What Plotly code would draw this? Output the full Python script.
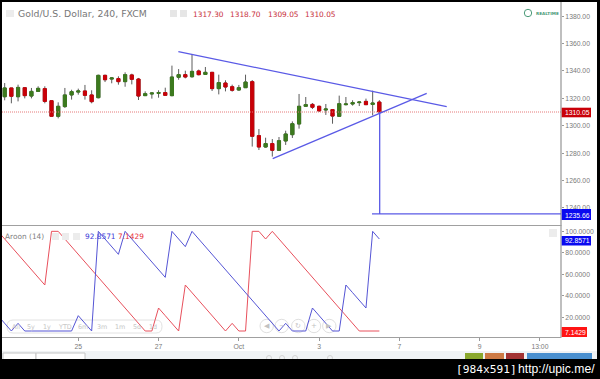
import plotly.graph_objects as go
from plotly.subplots import make_subplots

W, H = 600, 379
L, R, T, B = 2, 561, 2, 337

bar_index = list(range(57))
opens = [1321.2,1327.6,1321.2,1327.8,1321.7,1325.1,1327.1,1318.3,1306.9,1314.0,1322.5,1324.6,1325.4,1322.5,1320.5,1336.8,1334.1,1334.4,1332.2,1337.1,1334.1,1322.0,1323.2,1323.7,1324.2,1322.0,1335.4,1337.3,1335.8,1340.0,1337.5,1339.0,1327.1,1331.2,1328.5,1326.1,1327.8,1332.2,1292.8,1284.5,1287.0,1282.1,1288.9,1293.5,1301.3,1314.2,1315.6,1314.2,1311.5,1311.8,1306.9,1315.4,1315.9,1316.9,1317.8,1315.6,1317.3]
closes = [1327.6,1321.5,1328.0,1322.0,1325.1,1327.3,1317.8,1306.9,1314.2,1322.5,1324.9,1325.4,1322.2,1317.6,1336.8,1333.6,1334.9,1332.2,1337.3,1333.9,1321.7,1323.4,1323.9,1324.2,1322.2,1335.6,1337.3,1335.6,1339.7,1337.3,1339.0,1327.1,1331.5,1328.3,1325.9,1327.8,1331.9,1292.3,1284.5,1287.0,1282.1,1289.1,1294.0,1301.5,1314.2,1315.4,1313.5,1310.8,1312.2,1307.1,1316.1,1315.9,1316.9,1317.3,1315.4,1316.6,1310.05]
highs = [1331.2,1327.6,1330.0,1327.8,1327.6,1328.8,1328.8,1318.3,1317.1,1327.6,1326.3,1327.1,1329.8,1325.9,1337.3,1337.3,1335.6,1336.1,1339.0,1338.0,1334.9,1325.1,1324.2,1325.9,1327.8,1343.9,1341.4,1340.2,1352.4,1341.0,1342.9,1339.0,1337.3,1333.2,1330.0,1329.8,1337.3,1333.4,1297.6,1291.3,1290.3,1291.8,1296.4,1303.2,1323.2,1321.0,1316.6,1314.7,1315.9,1312.2,1322.0,1321.0,1318.6,1317.8,1319.8,1325.6,1318.7]
lows = [1318.6,1316.4,1317.8,1320.0,1320.0,1325.1,1316.4,1306.6,1305.4,1313.0,1319.1,1322.7,1319.1,1316.4,1320.0,1331.9,1331.0,1330.0,1328.5,1330.2,1318.8,1321.7,1319.8,1320.5,1322.0,1321.5,1333.6,1334.6,1335.1,1336.8,1337.3,1325.4,1322.9,1325.1,1324.9,1325.6,1327.6,1284.8,1282.3,1284.0,1277.5,1281.8,1286.0,1291.1,1297.9,1313.7,1312.2,1310.5,1307.9,1301.5,1306.4,1314.9,1314.7,1314.4,1315.2,1307.6,1309.05]

aroon_index = list(range(-1, 57))
aroon_up = [21.43,14.29,7.14,14.29,7.14,7.14,7.14,7.14,7.14,7.14,7.14,7.14,21.43,14.29,7.14,100,92.86,85.71,78.57,100,92.86,85.71,78.57,71.43,64.29,57.14,100,92.86,85.71,100,92.86,85.71,78.57,71.43,64.29,57.14,50,42.86,35.71,28.57,21.43,14.29,7.14,14.29,7.14,7.14,7.14,28.57,21.43,14.29,7.14,7.14,50,42.86,35.71,28.57,100,92.86]
aroon_down = [100,92.86,85.71,78.57,71.43,64.29,57.14,50,100,100,92.86,85.71,78.57,71.43,64.29,57.14,50,42.86,35.71,28.57,21.43,14.29,7.14,7.14,28.57,21.43,14.29,7.14,50,42.86,35.71,28.57,21.43,14.29,7.14,14.29,7.14,7.14,100,100,92.86,100,92.86,85.71,78.57,71.43,64.29,57.14,50,42.86,35.71,28.57,21.43,14.29,7.14,7.14,7.14,7.14]

resistance_x = [25.96, 66.07]
resistance_y = [1354.07, 1313.9]
support_x = [40.06, 63.08]
support_y = [1276.0, 1323.7]
drop_x = [56.05, 56.05]
drop_y = [1310.05, 1235.66]
target_x = [54.9, 83.15]
target_y = [1235.66, 1235.66]

x_tick_vals = [11, 23, 35, 47, 59, 71, 80]
x_tick_text = ["25", "27", "Oct", "3", "7", "9", "13:00"]
price_ticks = [1240, 1260, 1280, 1300, 1320, 1340, 1360, 1380]
aroon_ticks = [20, 40, 60, 80, 100]
last_price = 1310.05
range_buttons = ["All", "5y", "1y", "YTD", "6m", "3m", "1m", "5d", "1d"]
nav_buttons = ["◀", "−", "↻", "+", "▶"]

UP, DOWN, WICK = "#3c7a1e", "#c90008", "#5c5c5c"
BLUE_LINE, RED_LINE, DRAW = "#5555d5", "#e8505c", "#5a5ae6"
GRAY = "#808080"


def px(x):
    return (x - L) / (R - L)


def py(y):
    return (B - y) / (B - T)


fig = make_subplots(rows=2, cols=1, shared_xaxes=True, vertical_spacing=0,
                    row_heights=[0.667, 0.333])

fig.add_trace(go.Scatter(x=[-1, 84], y=[last_price, last_price], mode="lines",
                         line=dict(color="#e57878", width=1, dash="1px,1px")), row=1, col=1)
fig.add_trace(go.Candlestick(x=bar_index, open=opens, close=closes, high=highs, low=lows,
                             increasing=dict(line=dict(color=WICK, width=1), fillcolor=WICK),
                             decreasing=dict(line=dict(color=WICK, width=1), fillcolor=WICK),
                             whiskerwidth=0), row=1, col=1)
body_hi = [max(o, c) for o, c in zip(opens, closes)]
body_lo = [min(o, c) for o, c in zip(opens, closes)]
fig.add_trace(go.Candlestick(x=bar_index, open=opens, close=closes, high=body_hi, low=body_lo,
                             increasing=dict(line=dict(color=UP, width=1), fillcolor=UP),
                             decreasing=dict(line=dict(color=DOWN, width=1), fillcolor=DOWN),
                             whiskerwidth=0), row=1, col=1)
for xs, ys in [(resistance_x, resistance_y), (support_x, support_y), (drop_x, drop_y), (target_x, target_y)]:
    fig.add_trace(go.Scatter(x=xs, y=ys, mode="lines", line=dict(color=DRAW, width=1.3)), row=1, col=1)

fig.add_trace(go.Scatter(x=aroon_index, y=aroon_down, mode="lines",
                         line=dict(color=RED_LINE, width=1)), row=2, col=1)
fig.add_trace(go.Scatter(x=aroon_index, y=aroon_up, mode="lines",
                         line=dict(color=BLUE_LINE, width=1)), row=2, col=1)

shapes = []


def rect(x0, y0, x1, y1, fill, line=None, layer="above"):
    shapes.append(dict(type="rect", xref="paper", yref="paper", x0=px(x0), x1=px(x1), y0=py(y1), y1=py(y0),
                       fillcolor=fill, line=dict(color=line or fill, width=1 if line else 0), layer=layer))


def circle(cx, cy, r, line, layer="below", width=1):
    shapes.append(dict(type="circle", xref="paper", yref="paper", x0=px(cx - r), x1=px(cx + r),
                       y0=py(cy + r), y1=py(cy - r), line=dict(color=line, width=width), layer=layer))


shapes.append(dict(type="path", xref="paper", yref="paper", layer="below",
                   path=f"M {px(13)} {py(320)} L {px(156)} {py(320)} Q {px(162)} {py(320)} {px(162)} {py(326.5)} "
                        f"Q {px(162)} {py(333)} {px(156)} {py(333)} L {px(13)} {py(333)} "
                        f"Q {px(7)} {py(333)} {px(7)} {py(326.5)} Q {px(7)} {py(320)} {px(13)} {py(320)} Z",
                   line=dict(color="#e2e2e2", width=1)))
for cx in [266.7, 281.7, 298.3, 314, 329.3]:
    circle(cx, 326, 6.7, "#dfdfdf")
rect(R - 0.5, 2, R + 0.5, 337, GRAY)
rect(2, 225, R + 0.5, 226, "#a0a0a0")
rect(2, 337, R + 0.5, 338, "#a0a0a0")
rect(2, 351, 597, 359, "#f0f3f5")
rect(3, 353, 36, 360, "#ffffff", "#c4c4c4")
rect(36, 353, 85, 360, "#ffffff", "#c4c4c4")
for cx in [269, 282, 295, 330]:
    circle(cx, 358, 2.5, "#d4d4d4", layer="above")
rect(465, 353, 483, 360, "#8aa82e")
rect(485, 353, 504, 360, "#cd7a45")
rect(506, 353, 524, 360, "#a33434")
rect(527, 353, 592, 360, "#4a90d0")
rect(6, 10, 14, 17, "#ececec")
rect(170, 10, 177, 17, "#e6e6e6")
rect(180, 10, 187, 17, "#e6e6e6")
rect(52, 233, 59, 240, "#ececec")
rect(62, 233, 69, 240, "#ececec")
rect(73, 233, 80, 240, "#ececec")
rect(549, 229, 557, 237, "#ececec")
circle(528, 13, 3.7, "#4a9a78", layer="above", width=1)
rect(561.7, 107.7, 591, 117.3, "#c90008")
rect(561.7, 209, 591, 220, "#0a0af0")
rect(561.7, 236, 591, 245.5, "#0a0af0")
rect(561.7, 327, 587, 337, "#ff1414")
rect(0, 0, 600, 2, "#000000")
rect(0, 0, 2, 379, "#000000")
rect(597, 0, 600, 379, "#000000")
rect(0, 359, 600, 379, "#000000")

annotations = []


def label(x, y, text, size, color, family="DejaVu Sans", anchor="left"):
    annotations.append(dict(xref="paper", yref="paper", x=px(x), y=py(y), text=text, showarrow=False,
                            xanchor=anchor, yanchor="middle", borderpad=0,
                            font=dict(size=size, color=color, family=family)))


label(17, 13.5, "Gold/U.S. Dollar, 240, FXCM", 9.3, "#777777")
label(192, 14, "1317.30", 7.4, "#c8303c")
label(229, 14, "1318.70", 7.4, "#c8303c")
label(267, 14, "1309.05", 7.4, "#c8303c")
label(304, 14, "1310.05", 7.4, "#c8303c")
label(535, 13.5, "<b>REALTIME</b>", 4.2, "#4a9a78")
label(4, 236, "Aroon (14)", 7.4, "#808080")
label(84, 236, "92.8571", 7.4, "#3c3cd8")
label(117, 236, "7.1429", 7.4, "#e8303c")
label(564, 112.5, "1310.05", 6.8, "#ffffff", "Liberation Sans")
label(564, 215, "1235.66", 6.8, "#ffffff", "Liberation Sans")
label(564, 241, "92.8571", 6.8, "#ffffff", "Liberation Sans")
label(564, 332.5, "7.1429", 6.8, "#ffffff", "Liberation Sans")
for cx, t in zip([16, 31, 47, 65, 83, 102, 120, 137, 153], range_buttons):
    label(cx, 326.5, t, 6.4, "#c6c6c6", anchor="center")
for cx, t in zip([266.7, 281.7, 298.3, 314, 329.3], nav_buttons):
    label(cx, 326, t, 7, "#c2c2c2", anchor="center")
label(455, 369, "[984x591]", 11.2, "#ffffff", "DejaVu Sans Mono")
label(517, 369, "http://upic.me/", 12.2, "#ffffff", "Liberation Sans")

fig.update_layout(width=W, height=H, autosize=False, showlegend=False,
                  margin=dict(l=L, r=W - R, t=T, b=H - B, pad=0),
                  paper_bgcolor="#ffffff", plot_bgcolor="#ffffff", boxgap=0.33, boxmode="overlay",
                  shapes=shapes, annotations=annotations, hovermode=False)
x_range = [-0.4, 83.15]
tick_font = dict(size=6.8, color="#7a7a7a", family="Liberation Sans")
fig.update_xaxes(range=x_range, showgrid=False, zeroline=False, rangeslider_visible=False, showline=False)
fig.update_xaxes(row=1, col=1, showticklabels=False, ticks="")
fig.update_xaxes(row=2, col=1, tickmode="array", tickvals=x_tick_vals, ticktext=x_tick_text,
                 ticks="outside", ticklen=3, tickcolor="#999999", tickfont=tick_font)
fig.update_yaxes(side="right", showgrid=False, zeroline=False, showline=False, ticks="outside",
                 ticklen=2, tickcolor="#999999", tickfont=tick_font)
fig.update_yaxes(row=1, col=1, domain=[py(225), 1], range=[1227.57, 1390.34], tickmode="array",
                 tickvals=price_ticks, ticktext=[f"{v:.2f}" for v in price_ticks])
fig.update_yaxes(row=2, col=1, domain=[0, py(226)], range=[1.55, 104.97], tickmode="array",
                 tickvals=aroon_ticks, ticktext=[f"{v:.4f}" for v in aroon_ticks])

fig.write_html("out.html", config=dict(displayModeBar=False),
               post_script="document.body.style.margin='0';document.body.style.overflow='hidden';")
